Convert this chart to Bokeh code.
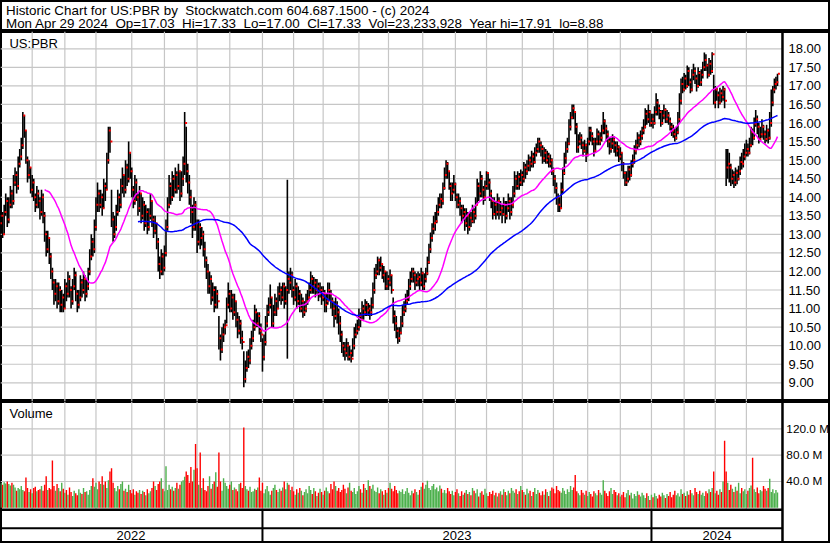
import pandas as pd
from bokeh.plotting import figure
from bokeh.layouts import column
from bokeh.models import Range1d, Span
from bokeh.core.properties import value
from bokeh.embed import file_html
from bokeh.resources import INLINE

# ---------------- data (daily bars, May 2 2022 .. Apr 29 2024) ----------------
close = [
    13.3, 13.5, 13.0, 13.6, 13.9, 13.4, 13.8, 14.1, 13.9, 14.4,
    14.6, 14.3, 14.9, 15.1, 15.4, 16.2, 15.8, 15.0, 14.6, 14.8,
    14.2, 14.4, 14.0, 13.8, 14.1, 13.9, 13.6, 14.0, 13.5, 13.0,
    12.6, 12.9, 12.4, 12.0, 11.7, 11.4, 11.6, 11.2, 11.5, 11.1,
    11.3, 11.0, 11.6, 11.4, 11.8, 11.5, 11.2, 11.6, 11.9, 11.4,
    11.1, 11.3, 11.7, 11.5, 11.8, 11.4, 11.6, 12.0, 12.4, 12.8,
    12.6, 13.2, 13.8, 14.1, 13.8, 14.0, 13.7, 14.3, 14.2, 15.0,
    15.8, 15.5, 13.4, 13.0, 13.2, 13.6, 14.0, 13.8, 14.3, 14.6,
    14.2, 14.8, 14.5, 15.2, 14.7, 14.2, 13.9, 14.4, 14.0, 13.7,
    14.1, 13.5, 13.8, 13.3, 13.6, 13.2, 13.5, 13.9, 13.4, 13.1,
    13.3, 12.8, 12.2, 12.0, 12.4, 12.1, 12.5, 13.2, 13.8, 14.3,
    14.0, 14.5, 14.2, 14.6, 14.3, 14.7, 14.1, 14.5, 14.9, 16.0,
    14.7, 14.4, 14.0, 13.6, 13.2, 13.8, 13.3, 12.8, 13.2, 12.9,
    13.0, 12.6, 12.3, 12.0, 11.6, 11.8, 11.3, 11.5, 11.1, 11.4,
    11.2, 10.2, 9.9, 10.3, 10.5, 10.55, 11.1, 11.4, 11.0, 11.3,
    10.9, 11.2, 10.7, 10.4, 10.6, 10.2, 10.1, 9.1, 9.4, 9.7,
    9.6, 10.0, 10.2, 10.5, 10.9, 10.6, 10.8, 10.4, 10.3, 9.7,
    10.1, 10.6, 10.9, 11.1, 11.3, 10.6, 10.9, 11.2, 11.0, 11.4,
    11.5, 11.3, 11.6, 11.2, 11.5, 11.8, 11.7, 11.9, 11.5, 11.3,
    11.6, 11.2, 11.4, 11.0, 11.2, 10.9, 11.0, 11.2, 11.3, 11.5,
    11.8, 11.6, 11.7, 11.5, 11.6, 11.4, 11.5, 11.3, 11.4, 11.1,
    11.2, 11.5, 11.4, 11.2, 11.0, 10.8, 11.1, 10.9, 10.6, 10.3,
    10.0, 9.9, 9.8, 10.0, 9.7, 9.8, 9.65, 10.0, 10.3, 10.4,
    10.5, 10.8, 10.7, 11.0, 10.9, 11.1, 10.95, 11.0, 10.9, 11.1,
    11.5, 11.9, 12.0, 12.3, 12.1, 12.2, 11.9, 12.0, 11.6, 11.8,
    11.7, 11.9, 11.5, 10.8, 10.6, 10.4, 10.2, 10.35, 10.6, 10.9,
    11.0, 11.2, 11.3, 11.6, 11.8, 12.0, 11.9, 11.7, 11.8, 11.85,
    11.7, 11.95, 11.6, 11.8, 11.95, 12.25, 12.6, 12.9, 13.15, 13.3,
    13.35, 13.6, 13.8, 13.95, 13.9, 14.25, 14.6, 14.9, 14.7, 14.3,
    14.1, 14.2, 14.35, 14.0, 13.8, 13.9, 13.7, 13.5, 13.6, 13.3,
    13.5, 13.2, 13.45, 13.35, 13.6, 13.5, 13.8, 14.3, 14.1, 14.5,
    14.2, 14.0, 14.3, 14.65, 14.4, 14.1, 13.9, 13.55, 13.8, 13.6,
    13.9, 13.6, 13.7, 13.55, 13.8, 13.5, 13.7, 13.9, 13.6, 13.8,
    14.1, 14.5, 14.3, 14.55, 14.4, 14.6, 14.5, 14.8, 14.7, 14.85,
    15.0, 14.9, 15.1, 14.95, 15.2, 15.3, 15.5, 15.4, 15.3, 15.05,
    15.2, 15.0, 15.1, 14.9, 15.0, 14.7, 14.5, 14.25, 14.0, 13.8,
    13.7, 14.2, 14.65, 15.05, 15.3, 15.45, 15.9, 16.15, 16.4, 16.3,
    15.9, 15.35, 15.5, 15.6, 15.4, 15.25, 15.4, 15.15, 15.5, 15.8,
    15.65, 15.5, 15.25, 15.5, 15.7, 15.5, 15.6, 15.8, 16.05, 15.85,
    15.7, 15.5, 15.3, 15.45, 15.55, 15.4, 15.25, 15.35, 15.1, 15.2,
    14.9, 14.65, 14.4, 14.5, 14.75, 14.6, 14.9, 15.0, 15.25, 15.4,
    15.6, 15.5, 15.65, 15.8, 15.9, 16.25, 16.1, 16.3, 16.0, 16.1,
    16.0, 16.3, 16.55, 16.4, 16.3, 16.0, 16.2, 16.35, 16.1, 16.2,
    16.05, 15.9, 15.8, 15.7, 15.6, 15.75, 16.1, 16.6, 17.05, 16.9,
    17.2, 17.0, 17.4, 17.1, 16.9, 17.3, 17.4, 17.2, 17.0, 17.35,
    17.1, 17.3, 17.5, 17.7, 17.55, 17.3, 17.6, 17.4, 17.85, 16.55,
    16.9, 16.75, 16.55, 16.8, 16.7, 16.9, 16.6, 14.8, 14.9, 14.8,
    14.5, 14.6, 14.4, 14.65, 14.5, 14.7, 14.95, 14.9, 15.1, 15.2,
    15.3, 15.2, 15.4, 15.75, 15.6, 15.98, 16.1, 15.9, 15.57, 15.7,
    15.9, 15.7, 15.57, 15.8, 15.6, 16.0, 16.55, 16.9, 17.05, 17.1,
    17.33,
]
high = [
    13.5, 13.7, 13.6, 13.8, 14.1, 14.0, 14.0, 14.3, 14.2, 14.6,
    14.8, 14.7, 15.1, 15.3, 15.6, 16.3, 16.2, 15.8, 15.1, 15.0,
    14.8, 14.6, 14.5, 14.1, 14.3, 14.2, 14.0, 14.2, 14.1, 13.6,
    13.1, 13.1, 12.9, 12.5, 12.1, 11.8, 11.8, 11.7, 11.7, 11.6,
    11.5, 11.4, 11.8, 11.7, 12.0, 11.9, 11.6, 11.8, 12.1, 12.0,
    11.5, 11.5, 11.9, 11.8, 12.0, 11.9, 11.8, 12.1, 12.6, 13.0,
    12.9, 13.4, 14.0, 14.4, 14.2, 14.2, 14.1, 14.5, 14.4, 15.2,
    15.9, 15.9, 14.2, 13.6, 13.5, 13.8, 14.2, 14.1, 14.5, 14.8,
    14.6, 15.0, 14.9, 15.5, 15.2, 14.8, 14.3, 14.6, 14.5, 14.1,
    14.3, 14.1, 14.0, 13.9, 13.8, 13.7, 13.7, 14.1, 13.9, 13.5,
    13.5, 13.3, 12.9, 12.4, 12.6, 12.5, 12.7, 13.4, 14.0, 14.6,
    14.4, 14.7, 14.6, 14.8, 14.7, 14.9, 14.7, 14.7, 15.1, 16.3,
    15.9, 14.9, 14.6, 14.2, 13.8, 14.0, 13.9, 13.4, 13.4, 13.3,
    13.2, 13.1, 12.8, 12.4, 12.2, 12.0, 11.9, 11.7, 11.6, 11.6,
    11.5, 10.8, 10.3, 10.5, 10.6, 10.7, 11.3, 11.7, 11.5, 11.5,
    11.4, 11.4, 11.2, 10.9, 10.8, 10.7, 10.4, 9.85, 9.6, 9.85,
    9.9, 10.2, 10.4, 10.7, 11.1, 11.0, 10.9, 10.9, 10.6, 10.2,
    10.3, 10.8, 11.1, 11.3, 11.65, 11.3, 11.1, 11.4, 11.3, 11.6,
    11.7, 11.6, 11.7, 11.7, 11.6, 14.47, 12.0, 12.1, 12.0, 11.6,
    11.8, 11.7, 11.6, 11.5, 11.4, 11.3, 11.2, 11.4, 11.5, 11.7,
    12.0, 11.9, 11.85, 11.8, 11.8, 11.7, 11.7, 11.6, 11.6, 11.5,
    11.4, 11.7, 11.7, 11.5, 11.3, 11.2, 11.3, 11.2, 11.0, 10.8,
    10.4, 10.1, 10.1, 10.2, 10.1, 10.0, 9.9, 10.2, 10.5, 10.6,
    10.7, 11.0, 10.9, 11.2, 11.1, 11.25, 11.2, 11.15, 11.1, 11.3,
    11.7, 12.1, 12.2, 12.4, 12.35, 12.4, 12.2, 12.15, 12.0, 12.0,
    11.9, 12.05, 11.9, 11.3, 10.95, 10.8, 10.5, 10.5, 10.8, 11.1,
    11.2, 11.4, 11.5, 11.8, 12.0, 12.1, 12.1, 12.0, 11.95, 12.0,
    11.95, 12.1, 12.0, 11.95, 12.1, 12.4, 12.75, 13.05, 13.3, 13.5,
    13.6, 13.8, 14.0, 14.1, 14.1, 14.4, 14.8, 15.0, 14.95, 14.7,
    14.4, 14.4, 14.6, 14.4, 14.1, 14.1, 14.0, 13.8, 13.8, 13.7,
    13.7, 13.6, 13.6, 13.6, 13.8, 13.7, 14.0, 14.5, 14.4, 14.7,
    14.6, 14.3, 14.45, 14.7, 14.65, 14.5, 14.2, 14.0, 14.0, 13.9,
    14.1, 14.0, 13.9, 13.8, 14.0, 13.9, 13.9, 14.1, 14.0, 14.0,
    14.3, 14.7, 14.6, 14.7, 14.65, 14.75, 14.7, 14.95, 14.9, 15.0,
    15.15, 15.1, 15.25, 15.2, 15.35, 15.45, 15.6, 15.6, 15.5, 15.4,
    15.35, 15.3, 15.25, 15.2, 15.15, 15.05, 14.8, 14.6, 14.4, 14.1,
    14.0, 14.4, 14.8, 15.2, 15.5, 15.6, 16.1, 16.3, 16.5, 16.5,
    16.3, 16.0, 15.7, 15.75, 15.7, 15.5, 15.55, 15.45, 15.6, 15.9,
    15.9, 15.75, 15.6, 15.6, 15.85, 15.8, 15.75, 15.95, 16.3, 16.1,
    15.95, 15.8, 15.6, 15.6, 15.7, 15.65, 15.5, 15.5, 15.4, 15.35,
    15.2, 14.95, 14.7, 14.7, 14.85, 14.85, 15.0, 15.15, 15.4, 15.55,
    15.75, 15.7, 15.8, 15.9, 16.1, 16.4, 16.35, 16.5, 16.35, 16.25,
    16.25, 16.45, 16.8, 16.65, 16.5, 16.35, 16.35, 16.5, 16.4, 16.35,
    16.3, 16.15, 16.0, 15.95, 15.85, 15.9, 16.3, 16.8, 17.2, 17.25,
    17.35, 17.3, 17.55, 17.5, 17.2, 17.45, 17.6, 17.5, 17.3, 17.5,
    17.4, 17.45, 17.65, 17.9, 17.85, 17.6, 17.75, 17.7, 17.91, 17.3,
    17.0, 16.95, 16.85, 16.95, 16.9, 17.0, 16.95, 15.3, 15.3, 15.2,
    14.9, 14.75, 14.7, 14.8, 14.75, 14.85, 15.1, 15.2, 15.3, 15.45,
    15.55, 15.45, 15.6, 15.9, 15.85, 16.15, 16.35, 16.2, 16.0, 15.9,
    16.1, 15.95, 15.8, 15.95, 15.85, 16.3, 16.9, 17.0, 17.2, 17.25,
    17.33,
]
low = [
    13.0, 13.2, 12.9, 13.0, 13.5, 13.2, 13.3, 13.7, 13.7, 13.8,
    14.3, 14.1, 14.2, 14.8, 15.0, 15.3, 15.6, 14.9, 14.4, 14.5,
    14.1, 14.0, 13.9, 13.6, 13.7, 13.7, 13.4, 13.5, 13.3, 12.8,
    12.4, 12.5, 12.2, 11.8, 11.5, 11.1, 11.2, 11.0, 11.1, 10.9,
    10.9, 10.9, 11.0, 11.2, 11.3, 11.3, 11.0, 11.1, 11.5, 11.2,
    10.9, 11.0, 11.2, 11.3, 11.4, 11.2, 11.3, 11.5, 11.9, 12.3,
    12.4, 12.5, 13.1, 13.6, 13.6, 13.7, 13.5, 13.7, 13.9, 14.2,
    14.9, 15.2, 13.2, 12.8, 12.9, 13.1, 13.5, 13.6, 13.7, 14.1,
    14.0, 14.1, 14.3, 14.4, 14.5, 14.0, 13.7, 13.8, 13.9, 13.5,
    13.6, 13.3, 13.4, 13.1, 13.2, 13.0, 13.1, 13.4, 13.2, 12.9,
    13.0, 12.6, 12.0, 11.8, 11.9, 11.9, 12.0, 12.4, 13.1, 13.7,
    13.8, 13.9, 14.0, 14.1, 14.1, 14.2, 13.9, 14.0, 14.3, 14.6,
    14.4, 14.1, 13.8, 13.3, 12.9, 13.1, 13.1, 12.5, 12.7, 12.6,
    12.7, 12.4, 12.1, 11.8, 11.4, 11.4, 11.1, 11.2, 10.9, 11.0,
    11.0, 9.9, 9.6, 9.8, 10.1, 10.3, 10.6, 11.0, 10.9, 10.9,
    10.7, 10.8, 10.5, 10.2, 10.3, 10.05, 9.9, 8.88, 9.0, 9.3,
    9.4, 9.5, 9.9, 10.1, 10.4, 10.5, 10.5, 10.3, 10.1, 9.3,
    9.6, 10.0, 10.5, 10.8, 11.0, 10.5, 10.5, 10.8, 10.8, 11.0,
    11.2, 11.1, 11.2, 11.0, 11.1, 9.65, 11.4, 11.5, 11.3, 11.1,
    11.2, 11.0, 11.1, 10.9, 10.9, 10.75, 10.8, 10.9, 11.1, 11.2,
    11.4, 11.4, 11.4, 11.3, 11.4, 11.2, 11.3, 11.1, 11.2, 10.9,
    10.9, 11.1, 11.2, 11.0, 10.8, 10.5, 10.7, 10.6, 10.3, 10.1,
    9.8, 9.7, 9.6, 9.7, 9.6, 9.6, 9.55, 9.7, 9.9, 10.2,
    10.3, 10.4, 10.5, 10.7, 10.7, 10.8, 10.8, 10.8, 10.7, 10.8,
    11.0, 11.4, 11.8, 11.9, 11.9, 12.0, 11.8, 11.7, 11.5, 11.5,
    11.5, 11.6, 11.4, 10.6, 10.4, 10.2, 10.05, 10.1, 10.3, 10.5,
    10.8, 10.9, 11.1, 11.2, 11.5, 11.7, 11.7, 11.5, 11.6, 11.6,
    11.5, 11.6, 11.5, 11.5, 11.7, 11.9, 12.2, 12.5, 12.8, 13.0,
    13.1, 13.3, 13.5, 13.7, 13.7, 13.8, 14.2, 14.5, 14.5, 14.2,
    13.9, 13.9, 14.1, 13.9, 13.7, 13.7, 13.5, 13.3, 13.4, 13.1,
    13.2, 13.0, 13.1, 13.2, 13.3, 13.3, 13.4, 13.8, 13.9, 14.0,
    14.0, 13.8, 13.9, 14.2, 14.2, 13.9, 13.7, 13.4, 13.5, 13.4,
    13.5, 13.4, 13.5, 13.3, 13.5, 13.3, 13.4, 13.6, 13.4, 13.5,
    13.7, 14.0, 14.2, 14.2, 14.2, 14.3, 14.3, 14.4, 14.5, 14.6,
    14.7, 14.7, 14.8, 14.8, 14.9, 15.1, 15.2, 15.2, 15.1, 14.9,
    14.95, 14.9, 14.9, 14.8, 14.8, 14.6, 14.3, 14.1, 13.8, 13.6,
    13.6, 13.7, 14.1, 14.6, 14.9, 15.2, 15.4, 15.8, 16.1, 16.1,
    15.7, 15.2, 15.2, 15.4, 15.3, 15.1, 15.2, 14.95, 15.1, 15.4,
    15.5, 15.4, 15.1, 15.2, 15.4, 15.4, 15.4, 15.5, 15.7, 15.7,
    15.5, 15.35, 15.15, 15.2, 15.3, 15.2, 15.1, 15.1, 14.95, 15.0,
    14.7, 14.5, 14.3, 14.3, 14.4, 14.45, 14.55, 14.8, 14.9, 15.15,
    15.3, 15.35, 15.4, 15.55, 15.7, 15.85, 15.95, 16.0, 15.9, 15.9,
    15.85, 15.95, 16.2, 16.2, 16.1, 15.9, 15.95, 16.1, 16.0, 16.0,
    15.95, 15.8, 15.65, 15.6, 15.5, 15.55, 15.7, 16.0, 16.5, 16.8,
    16.85, 16.9, 16.95, 17.0, 16.8, 16.85, 17.15, 17.05, 16.85, 16.95,
    17.0, 17.0, 17.2, 17.4, 17.4, 17.2, 17.25, 17.3, 17.35, 16.5,
    16.4, 16.6, 16.4, 16.5, 16.55, 16.6, 16.4, 14.3, 14.5, 14.4,
    14.3, 14.35, 14.25, 14.3, 14.35, 14.45, 14.6, 14.75, 14.8, 15.0,
    15.1, 15.1, 15.15, 15.35, 15.4, 15.55, 15.9, 15.7, 15.45, 15.5,
    15.6, 15.55, 15.45, 15.5, 15.45, 15.55, 15.9, 16.45, 16.8, 16.9,
    17.0,
]
volume_m = [
    36, 38, 35, 39, 37, 40, 36, 34, 38, 35,
    31, 26, 30, 28, 33, 27, 25, 46, 30, 24,
    28, 22, 30, 32, 25, 27, 28, 33, 26, 35,
    48, 27, 30, 28, 72, 33, 26, 36, 30, 25,
    38, 29, 23, 27, 20, 31, 24, 18, 26, 22,
    19, 28, 23, 21, 30, 24, 25, 20, 27, 33,
    45, 32, 38, 28, 40, 36, 48, 35, 40, 30,
    42, 55, 60, 38, 30, 25, 33, 28, 36, 40,
    26, 29, 24, 35, 27, 22, 28, 20, 25, 23,
    27, 21, 26, 24, 19, 28, 22, 25, 30, 40,
    33, 27, 36, 40, 45, 29, 25, 63, 27, 35,
    28, 32, 26, 30, 38, 29, 35, 40, 42, 47,
    55, 50, 38, 62, 40, 58, 97, 60, 35, 84,
    30, 45, 27, 25, 33, 48, 29, 36, 40, 54,
    32, 84, 40, 26, 45, 38, 33, 29, 35, 40,
    27, 31, 28, 25, 36, 38, 30, 122, 33, 28,
    26, 32, 24, 25, 29, 27, 31, 46, 26, 38,
    22, 28, 33, 25, 20, 26, 30, 35, 27, 24,
    29, 26, 31, 40, 28, 38, 35, 27, 32, 25,
    20, 28, 23, 30, 26, 19, 24, 28, 22, 33,
    27, 21, 30, 25, 18, 23, 29, 24, 20, 26,
    31, 25, 22, 36, 28, 40, 33, 26, 30, 24,
    27, 35, 29, 22, 31, 38, 26, 24, 30, 21,
    25, 33, 28, 23, 36, 30, 27, 42, 33, 29,
    35, 26, 24, 31, 22, 28, 25, 20, 27, 23,
    30, 38, 29, 25, 33, 27, 22, 26, 24, 28,
    21, 25, 30, 23, 19, 26, 22, 28, 24, 20,
    27, 32, 38, 29, 35, 41, 30, 27, 33, 36,
    28, 31, 25, 34, 29, 23, 27, 22, 30, 25,
    21, 26, 19, 24, 28, 22, 18, 25, 20, 23,
    27, 21, 24, 19, 30, 26, 22, 28, 17, 23,
    25, 20, 29, 22, 18, 24, 21, 26, 19, 23,
    17, 22, 25, 20, 28, 24, 19, 26, 22, 30,
    26, 23, 28, 21, 25, 33, 27, 24, 20, 29,
    22, 26, 18, 24, 30, 21, 27, 23, 19, 25,
    20, 28, 24, 18, 26, 31, 29, 22, 33, 27,
    25, 23, 30, 26, 21, 28, 24, 33, 27, 31,
    50, 25, 22, 19, 27, 23, 20, 26, 18, 24,
    21, 17, 25, 22, 19, 27, 23, 20, 42, 26,
    22, 18, 25, 30, 21, 27, 24, 19, 22, 17,
    20, 24, 16, 22, 27, 19, 23, 14, 21, 18,
    25, 20, 17, 23, 19, 15, 22, 18, 12, 20,
    16, 22, 18, 14, 20, 17, 23, 19, 15, 21,
    18, 24, 16, 20, 26, 19, 22, 17, 28, 21,
    23, 18, 25, 20, 27, 22, 19, 30, 24, 21,
    26, 20, 23, 18, 25, 22, 28, 24, 30, 55,
    22, 26, 20, 28, 24, 40, 102, 55, 38, 27,
    35, 29, 24, 32, 26, 38, 22, 30, 25, 28,
    21, 26, 30, 34, 76, 28, 24, 31, 22, 27,
    25, 33, 29, 26, 30, 44, 24, 28, 22, 27,
    23.23,
]

price_ticks = [9.0, 9.5, 10.0, 10.5, 11.0, 11.5, 12.0, 12.5, 13.0, 13.5,
               14.0, 14.5, 15.0, 15.5, 16.0, 16.5, 17.0, 17.5, 18.0]
volume_ticks = [40, 80, 120]
month_starts = [21, 42, 62, 85, 106, 127, 148, 169, 189, 208, 231, 250,
                272, 293, 313, 336, 356, 378, 399, 419, 440, 460, 480]
year_starts = [0, 169, 419]
year_labels = ["2022", "2023", "2024"]

header_line1 = "Historic Chart for US:PBR by\u00a0 Stockwatch.com 604.687.1500 - (c) 2024"
header_line2 = ("Mon Apr 29 2024\u00a0 Op=17.03\u00a0 Hi=17.33\u00a0 Lo=17.00\u00a0 "
                "Cl=17.33\u00a0 Vol=23,233,928\u00a0 Year hi=17.91\u00a0 lo=8.88")
symbol = "US:PBR"

# ---------------- layout constants ----------------
W = 830
H_HEAD, H_PRICE, H_LOWER = 31, 370, 142
X_LEFT, X_RIGHT = 0.643, 534.06      # bar-index span of the full width
X_AXIS = 503.2                       # right edge of the chart area
X_LABEL = 507.1                      # left edge of right-hand price labels
X_VLABEL = 505.7                     # left edge of right-hand volume labels
X_TAG = 6.4                          # left edge of panel captions
PRICE_RANGE = (8.496, 18.466)
SYMBOL_Y = 18.148
VOL_RANGE = (-54.3, 161.6)           # lower figure: volume panel + date strip
VOL_TOP = 161.6
VOL_FLOOR = -3.0                     # border between volume panel and date strip
STRIP_LINE = -31.3
YEAR_Y = -41.8
VOLUME_TAG_Y = 143.0
FONT = "Liberation Sans"
GRID = "#c6c6c6"

n = len(close)
idx = list(range(n))
ma_fast = pd.Series(close).rolling(30).mean()
ma_slow = pd.Series(close).rolling(90).mean()
prev = [close[0]] + close[:-1]
vcolors = ["#4cb04c" if c > p else ("#ff0000" if c < p else "#a0a0a0")
           for c, p in zip(close, prev)]

xr = Range1d(X_LEFT, X_RIGHT)


def panel(h, xrange, yrange):
    f = figure(width=W, height=h, x_range=xrange, y_range=yrange,
               output_backend="svg", toolbar_location=None,
               x_axis_location=None, y_axis_location=None, min_border=0)
    f.grid.visible = False
    f.outline_line_color = "black"
    f.outline_line_width = 3
    f.background_fill_color = "white"
    f.border_fill_color = "white"
    return f


# ---------------- header ----------------
head = panel(H_HEAD, Range1d(0, W), Range1d(H_HEAD, 0))
head.text(x=[5.5, 5.5], y=[10.1, 22.7], text=[header_line1, header_line2],
          text_font=value(FONT), text_font_size="13.4px", text_color="black",
          text_baseline="middle", text_align="left")

# ---------------- price panel ----------------
pp = panel(H_PRICE, xr, Range1d(*PRICE_RANGE))
for m in month_starts:
    pp.add_layout(Span(location=m, dimension="height", line_color=GRID,
                       line_width=1.2, level="underlay"))
pp.segment(x0=[X_LEFT] * len(price_ticks), x1=[X_AXIS] * len(price_ticks),
           y0=price_ticks, y1=price_ticks, line_color=GRID, line_width=1.2)
pp.segment(x0=idx, x1=idx, y0=low, y1=high, line_color="black", line_width=1.6)
pp.rect(x=[i + 0.9 for i in idx], y=close, width=2, height=2,
        width_units="screen", height_units="screen", fill_color="#ff0000", line_color=None)
pp.line(idx, ma_fast, line_color="#ff00ff", line_width=1.5)
pp.line(idx, ma_slow, line_color="#0000ff", line_width=1.5)
pp.add_layout(Span(location=X_AXIS, dimension="height", line_color="black", line_width=2.5))
pp.text(x=[X_LABEL] * len(price_ticks), y=price_ticks,
        text=[f"{t:.2f}" for t in price_ticks], text_font=value(FONT),
        text_font_size="13px", text_color="black", text_baseline="middle", text_align="left")
pp.text(x=[X_TAG], y=[SYMBOL_Y], text=[symbol], text_font=value(FONT),
        text_font_size="13px", text_color="black", text_baseline="middle", text_align="left")

# ---------------- volume panel + date strip ----------------
vp = panel(H_LOWER, xr, Range1d(*VOL_RANGE))
vp.segment(x0=month_starts, x1=month_starts, y0=[VOL_FLOOR] * len(month_starts),
           y1=[VOL_TOP] * len(month_starts), line_color=GRID, line_width=1.2)
vp.segment(x0=[X_LEFT] * len(volume_ticks), x1=[X_AXIS] * len(volume_ticks),
           y0=volume_ticks, y1=volume_ticks, line_color=GRID, line_width=1.2)
vp.vbar(x=idx, top=volume_m, bottom=0, width=0.9, fill_color=vcolors, line_color=None)
vp.text(x=[X_VLABEL] * len(volume_ticks), y=volume_ticks,
        text=[f"{t:.1f} M" for t in volume_ticks], text_font=value(FONT),
        text_font_size="11.8px", text_color="black", text_baseline="middle", text_align="left")
vp.text(x=[X_TAG], y=[VOLUME_TAG_Y], text=["Volume"], text_font=value(FONT),
        text_font_size="13px", text_color="black", text_baseline="middle", text_align="left")

# date strip
vp.segment(x0=[X_LEFT, X_LEFT], x1=[X_AXIS, X_AXIS], y0=[VOL_FLOOR, STRIP_LINE],
           y1=[VOL_FLOOR, STRIP_LINE], line_color="black", line_width=[2.5, 2])
vp.segment(x0=year_starts[1:], x1=year_starts[1:], y0=[VOL_FLOOR] * 2,
           y1=[VOL_RANGE[0]] * 2, line_color="black", line_width=2)
bounds = year_starts[1:] + [X_AXIS]
mids = [(a + b) / 2 for a, b in zip(year_starts, bounds)]
vp.text(x=mids, y=[YEAR_Y] * len(mids), text=year_labels, text_font=value(FONT),
        text_font_size="13px", text_color="black", text_baseline="middle", text_align="center")
vp.add_layout(Span(location=X_AXIS, dimension="height", line_color="black", line_width=2.5))

layout = column(head, pp, vp, spacing=0)
open("out.html", "w").write(file_html(layout, INLINE))
